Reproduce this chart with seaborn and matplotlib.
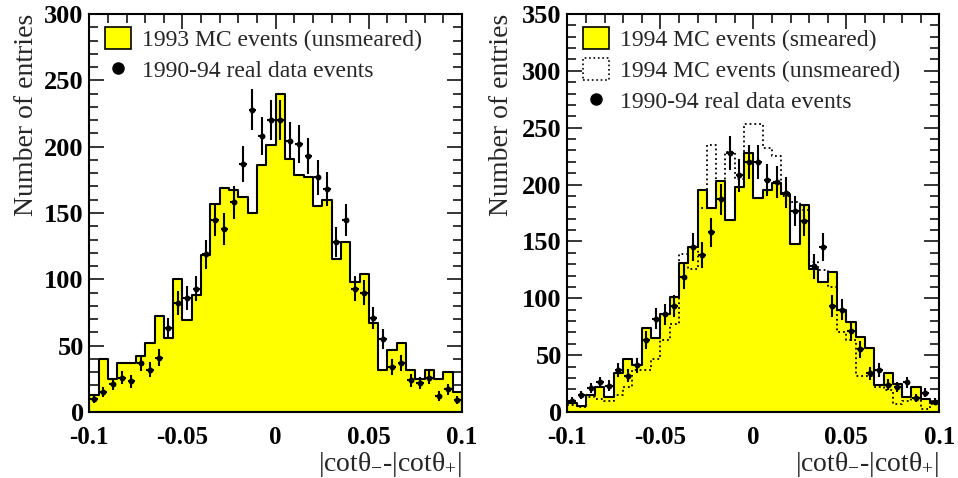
import numpy as np
import pandas as pd
import matplotlib
matplotlib.use("Agg")
import matplotlib.pyplot as plt
import seaborn as sns
from matplotlib.patches import Patch
from matplotlib.lines import Line2D
from matplotlib.ticker import MultipleLocator

# ---------------- data (40 bins from -0.1 to 0.1) ----------------
n_bins = 40
x_range = (-0.1, 0.1)

mc93_unsmeared = [13, 40, 25, 37, 37, 42, 52, 72, 56, 100,
                  69, 88, 118, 157, 169, 167, 162, 150, 186, 201,
                  240, 191, 179, 177, 155, 160, 115, 128, 98, 104,
                  67, 32, 47, 52, 32, 25, 32, 25, 30, 15]

real_data = [10, 15, 21, 26, 23, 37, 32, 41, 63, 82,
             86, 93, 119, 145, 138, 158, 187, 228, 208, 220,
             220, 204, 202, 193, 177, 168, 128, 145, 93, 90,
             71, 55, 34, 37, 24, 22, 26, 12, 17, 9]

mc94_smeared = [8, 5, 15, 22, 13, 34, 47, 41, 74, 65,
                86, 101, 131, 145, 195, 179, 203, 169, 198, 228,
                188, 195, 201, 192, 148, 182, 126, 114, 123, 90,
                79, 66, 56, 24, 34, 25, 13, 22, 11, 8]

mc94_unsmeared = [6, 4, 13, 11, 10, 15, 22, 37, 37, 47,
                  63, 77, 139, 126, 179, 235, 203, 229, 205, 253,
                  253, 232, 225, 190, 185, 178, 132, 125, 110, 70,
                  63, 32, 32, 22, 19, 7, 10, 12, 3, 7]

xtick_vals = [-0.1, -0.05, 0, 0.05, 0.1]
xtick_labels = ["-0.1", "-0.05", "0", "0.05", "0.1"]
left_yticks = [0, 50, 100, 150, 200, 250, 300]
right_yticks = [0, 50, 100, 150, 200, 250, 300, 350]

legend_left = ["1993 MC events (unsmeared)", "1990-94 real data events"]
legend_right = ["1994 MC events (smeared)", "1994 MC events (unsmeared)",
                "1990-94 real data events"]
xlabel = "|cotθ$_{-}$-|cotθ$_{+}$|"
ylabel = "Number of entries"

# ---------------- style ----------------
sns.set_style("ticks")
plt.rcParams["font.family"] = ["Liberation Serif", "DejaVu Serif"]
plt.rcParams["mathtext.fontset"] = "custom"
plt.rcParams["mathtext.rm"] = "Liberation Serif"
plt.rcParams["mathtext.it"] = "Liberation Serif:italic"
plt.rcParams["mathtext.bf"] = "Liberation Serif:bold"
plt.rcParams["axes.unicode_minus"] = False

edges = np.linspace(x_range[0], x_range[1], n_bins + 1)
centers = (edges[:-1] + edges[1:]) / 2
df = pd.DataFrame({"x": centers, "mc93": mc93_unsmeared, "data": real_data,
                   "mc94s": mc94_smeared, "mc94u": mc94_unsmeared})

W, H = 958, 478
fig = plt.figure(figsize=(W / 100, H / 100), dpi=100)
ax1 = fig.add_axes([89.3 / W, 66 / H, 372.7 / W, 398 / H])
ax2 = fig.add_axes([567.3 / W, 66 / H, 372 / W, 398 / H])

YELLOW = "#ffff00"
hist_kw = dict(data=df, x="x", bins=n_bins, binrange=x_range, element="step")

# left panel
sns.histplot(weights="mc93", fill=True, color=YELLOW, alpha=1,
             edgecolor="black", linewidth=1.5, ax=ax1, **hist_kw)
ax1.set_axisbelow(True)

# right panel
sns.histplot(weights="mc94s", fill=True, color=YELLOW, alpha=1,
             edgecolor="black", linewidth=1.5, ax=ax2, **hist_kw)
sns.histplot(weights="mc94u", fill=False, color="black", linestyle=":",
             linewidth=1.3, ax=ax2, **hist_kw)

for ax in (ax1, ax2):
    d = df["data"].to_numpy()
    ax.errorbar(df["x"], d, yerr=np.sqrt(d), xerr=0.002, fmt="o",
                color="black", markersize=3.2, elinewidth=1.5, capsize=0,
                zorder=5)

def style_axis(ax, ymax, yticks):
    ax.set_xlim(*x_range)
    ax.set_ylim(0, ymax)
    ax.set_xticks(xtick_vals, xtick_labels)
    ax.set_yticks(yticks, [str(v) for v in yticks])
    ax.xaxis.set_minor_locator(MultipleLocator(0.01))
    ax.yaxis.set_minor_locator(MultipleLocator(10))
    ax.tick_params(which="both", direction="in", top=True, right=True,
                   width=1.1, colors="black")
    ax.tick_params(which="major", length=11)
    ax.tick_params(which="minor", length=6.5)
    ax.tick_params(axis="y", which="major", pad=4)
    ax.tick_params(axis="x", which="major", pad=10)
    for lab in ax.get_yticklabels():
        lab.set_fontsize(19)
        lab.set_fontweight("bold")
    for lab in ax.get_xticklabels():
        lab.set_fontsize(18)
        lab.set_fontweight("bold")
    for s in ax.spines.values():
        s.set_linewidth(1.5)
        s.set_color("black")
        s.set_visible(True)
    ax.set_ylabel("")
    ax.set_xlabel(xlabel, loc="right", fontsize=20, labelpad=1)

style_axis(ax1, 300, left_yticks)
style_axis(ax2, 350, right_yticks)

fig.text(27 / W, 1 - 14 / H, ylabel, rotation=90, ha="center", va="top",
         fontsize=20)
fig.text(501 / W, 1 - 14 / H, ylabel, rotation=90, ha="center", va="top",
         fontsize=20)

# legends
dot = Line2D([], [], marker="o", color="black", linestyle="none",
             markersize=8)
yel = Patch(facecolor=YELLOW, edgecolor="black", linewidth=1.2)
dotbox = Patch(facecolor="white", edgecolor="black", linestyle=":",
               linewidth=1.2)

leg_kw = dict(loc="upper left", frameon=False, fontsize=17, handlelength=1.1,
              handleheight=1.05, handletextpad=0.45, labelspacing=0.3,
              borderpad=0, borderaxespad=0)
ax1.legend([yel, dot], legend_left, bbox_to_anchor=(0.042, 0.967), **leg_kw)
ax2.legend([yel, dotbox, dot], legend_right, bbox_to_anchor=(0.042, 0.967),
           **leg_kw)

fig.savefig("out.png", dpi=100)
